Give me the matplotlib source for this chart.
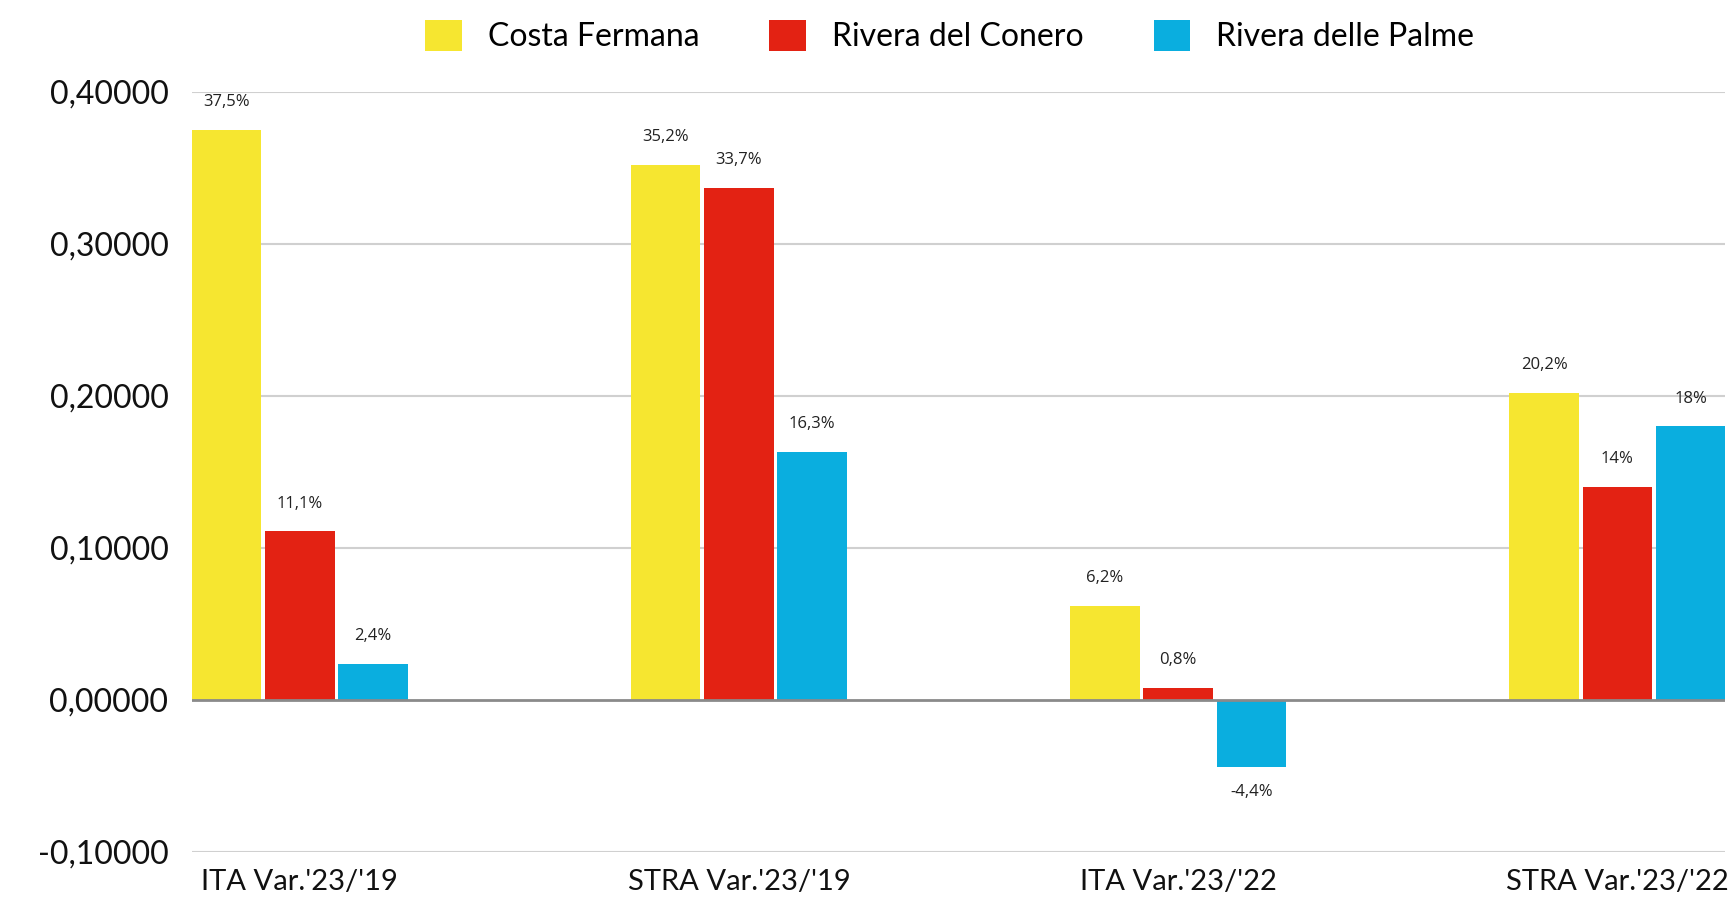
import matplotlib.pyplot as plt
from matplotlib.patches import Patch
import numpy as np

categories = ["ITA Var.'23/'19", "STRA Var.'23/'19", "ITA Var.'23/'22", "STRA Var.'23/'22"]
series_names = ["Costa Fermana", "Rivera del Conero", "Rivera delle Palme"]
costa_fermana = [0.375, 0.352, 0.062, 0.202]
rivera_conero = [0.111, 0.337, 0.008, 0.140]
rivera_palme = [0.024, 0.163, -0.044, 0.180]
yticks = [-0.1, 0.0, 0.1, 0.2, 0.3, 0.4]

colors = ["#F6E630", "#E32213", "#0AAEDF"]


def pct_label(v):
    s = f"{v * 100:.1f}"
    if s.endswith(".0"):
        s = s[:-2]
    return s.replace(".", ",") + "%"


fig = plt.figure(figsize=(17.36, 9), dpi=100)
ax = fig.add_axes([0.1106, 0.0533, 0.8831, 0.8445])

x = np.arange(len(categories))
width = 0.159
gap = 0.008
offsets = [-(width + gap), 0, width + gap]
all_series = [costa_fermana, rivera_conero, rivera_palme]

for vals, off, col in zip(all_series, offsets, colors):
    bars = ax.bar(x + off, vals, width, color=col, zorder=3)
    for b, v in zip(bars, vals):
        cx = b.get_x() + b.get_width() / 2
        dy = 20 if v >= 0 else -18
        ax.annotate(pct_label(v), (cx, v), xytext=(0, dy), textcoords="offset points",
                    ha="center", va="center", fontsize=12, family="Open Sans",
                    color="#222222")

ax.set_xlim(-0.245, 3.245)
ax.set_ylim(-0.1, 0.4)
ax.set_yticks(yticks)
ax.set_yticklabels([f"{t:.5f}".replace(".", ",") for t in yticks])
ax.set_xticks(x)
ax.set_xticklabels(categories)

for t in yticks:
    if t == 0:
        ax.axhline(t, color="#8a8a8a", lw=2, zorder=4)
    else:
        ax.axhline(t, color="#d0d0d0", lw=1.5, zorder=1)

for s in ax.spines.values():
    s.set_visible(False)
ax.tick_params(axis="both", length=0, colors="#111111")
ax.tick_params(axis="y", pad=17, labelsize=23)
ax.tick_params(axis="x", pad=12, labelsize=21)
for lab in ax.get_xticklabels() + ax.get_yticklabels():
    lab.set_family("Lato")

handles = [Patch(facecolor=c, edgecolor="none") for c in colors]
fig.legend(handles, series_names, loc="center", bbox_to_anchor=(0.547, 0.96), ncol=3,
           frameon=False, prop={"family": "Lato", "size": 23}, handlelength=1.15,
           handleheight=1.15, handletextpad=0.8, columnspacing=2.2)

fig.savefig("out.png", dpi=100)
